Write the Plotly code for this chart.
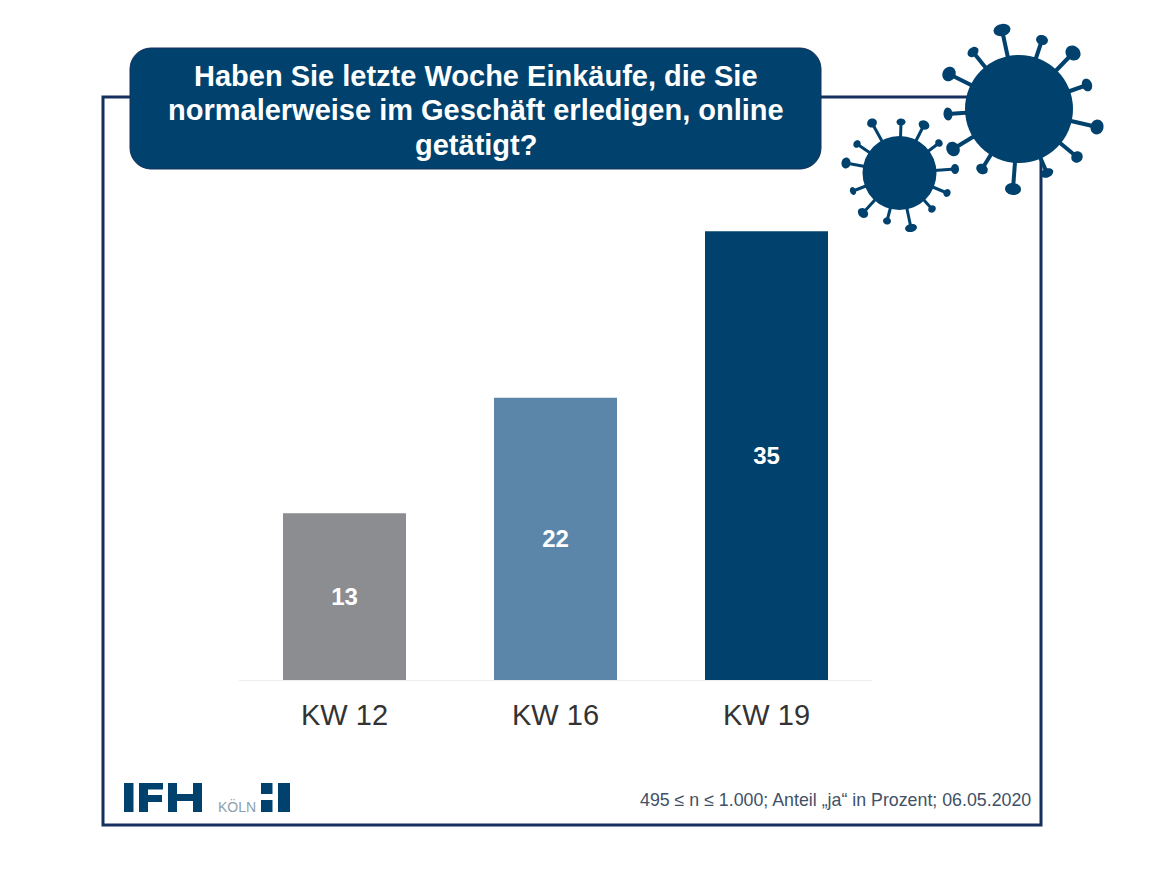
import math
import plotly.graph_objects as go

W, H = 1164, 873

categories = ["KW 12", "KW 16", "KW 19"]
values = [13, 22, 35]
bar_colors = ["#8c8d91", "#5b86a9", "#00426d"]

title_lines = [
    "Haben Sie letzte Woche Einkäufe, die Sie",
    "normalerweise im Geschäft erledigen, online",
    "getätigt?",
]
title_y = [76, 110, 145]
footnote = "495 ≤ n ≤ 1.000; Anteil „ja“ in Prozent; 06.05.2020"

NAVY = "#00426d"
FRAME = "#16305e"
FONT = "Liberation Sans"

# virus spikes: tip x, tip y, blob half length, blob half width (page pixels)
big_spikes = [
    (1002, 30, 8.5, 6), (1042, 40, 6, 5), (1073, 53, 8, 7), (1087, 85, 6.5, 5),
    (1097, 127, 7.5, 6.5), (1077, 157, 6, 5.5), (1047, 173, 6.5, 4.5), (1013, 189, 8, 6),
    (982, 169, 6, 5), (953, 149, 7.5, 6.5), (948, 114, 6.5, 4.5), (949, 74, 7.5, 6.5),
    (973, 52, 6, 4.5),
]
small_spikes = [
    (872, 123, 5, 4.5), (901, 122, 4.5, 3.5), (924, 125, 5.5, 4.5), (939, 143, 4, 3.5),
    (955, 169, 5, 4), (947, 193, 4, 3.5), (932, 209, 4, 3.5), (911, 228, 6, 4),
    (887, 221, 4, 3.5), (863, 213, 5.5, 4.5), (853, 191, 4, 3), (846, 163, 5.5, 4.5),
    (857, 144, 4, 3.5),
]


def px(x):
    return x / W


def py(y):
    return 1 - y / H


def rect(x0, y0, x1, y1, color):
    return dict(type="rect", xref="paper", yref="paper", x0=px(x0), x1=px(x1),
                y0=py(y0), y1=py(y1), fillcolor=color, line_width=0, layer="above")


def rounded_box(x0, y0, x1, y1, r, color):
    k = r * 0.45
    pts = (
        f"M {px(x0 + r)} {py(y0)} L {px(x1 - r)} {py(y0)} "
        f"C {px(x1 - k)} {py(y0)} {px(x1)} {py(y0 + k)} {px(x1)} {py(y0 + r)} "
        f"L {px(x1)} {py(y1 - r)} "
        f"C {px(x1)} {py(y1 - k)} {px(x1 - k)} {py(y1)} {px(x1 - r)} {py(y1)} "
        f"L {px(x0 + r)} {py(y1)} "
        f"C {px(x0 + k)} {py(y1)} {px(x0)} {py(y1 - k)} {px(x0)} {py(y1 - r)} "
        f"L {px(x0)} {py(y0 + r)} "
        f"C {px(x0)} {py(y0 + k)} {px(x0 + k)} {py(y0)} {px(x0 + r)} {py(y0)} Z"
    )
    return dict(type="path", xref="paper", yref="paper", path=pts, fillcolor=color,
                line=dict(color=FRAME, width=1), layer="above")


def virus(cx, cy, radius, spikes, stem):
    out = []
    for tx, ty, a, b in spikes:
        out.append(dict(type="line", xref="paper", yref="paper", x0=px(cx), y0=py(cy),
                        x1=px(tx), y1=py(ty), line=dict(color=NAVY, width=stem), layer="above"))
        ang = math.atan2(ty - cy, tx - cx) + math.pi / 2
        pts = []
        for i in range(24):
            t = 2 * math.pi * i / 24
            ex, ey = a * math.cos(t), b * math.sin(t)
            pts.append((tx + ex * math.cos(ang) - ey * math.sin(ang),
                        ty + ex * math.sin(ang) + ey * math.cos(ang)))
        path = "M " + " L ".join(f"{px(x)} {py(y)}" for x, y in pts) + " Z"
        out.append(dict(type="path", xref="paper", yref="paper", path=path, fillcolor=NAVY,
                        line_width=0, layer="above"))
    out.append(dict(type="circle", xref="paper", yref="paper", x0=px(cx - radius),
                    x1=px(cx + radius), y0=py(cy + radius), y1=py(cy - radius),
                    fillcolor=NAVY, line_width=0, layer="above"))
    return out


fig = go.Figure(go.Bar(
    x=categories, y=values,
    marker=dict(color=bar_colors, line_width=0),
    text=values, textposition="inside", insidetextanchor="middle",
    textangle=0, constraintext="none",
    textfont=dict(family=FONT, size=24, color="white", weight="bold"),
    hoverinfo="skip",
))

shapes = [
    # frame
    dict(type="rect", xref="paper", yref="paper", x0=px(103), x1=px(1041), y0=py(825), y1=py(97),
         line=dict(color=FRAME, width=3), fillcolor="rgba(0,0,0,0)", layer="above"),
    rounded_box(130, 48, 821, 169, 21, NAVY),
]
shapes += virus(1019, 109, 54, big_spikes, 4)
shapes += virus(899.5, 173, 37, small_spikes, 3)

# IFH logo
shapes += [
    rect(124, 783, 133.5, 812, NAVY),
    rect(139, 783, 148, 812, NAVY), rect(139, 783, 163, 789.5, NAVY), rect(139, 795, 162, 802, NAVY),
    rect(168, 783, 177, 812, NAVY), rect(193, 783, 202, 812, NAVY), rect(168, 794, 202, 801, NAVY),
    rect(261, 783, 272.5, 794, NAVY), rect(261, 800, 272.5, 812, NAVY), rect(278, 783, 290, 812, NAVY),
]

annotations = [
    dict(text=line, xref="paper", yref="paper", x=px(476), y=py(y),
         xanchor="center", yanchor="middle", showarrow=False,
         font=dict(family=FONT, size=29, color="white", weight="bold"))
    for line, y in zip(title_lines, title_y)
]
annotations += [
    dict(text=footnote, xref="paper", yref="paper", x=px(1033), y=py(800),
         xanchor="right", yanchor="middle", showarrow=False,
         font=dict(family=FONT, size=17.8, color="#3f5168")),
    dict(text="KÖLN", xref="paper", yref="paper", x=px(216), y=py(806),
         xanchor="left", yanchor="middle", showarrow=False,
         font=dict(family=FONT, size=14, color="#8aa0ad")),
]

fig.update_layout(
    width=W, height=H,
    margin=dict(l=0, r=0, t=0, b=0),
    paper_bgcolor="white", plot_bgcolor="white",
    bargap=0.417, showlegend=False,
    shapes=shapes, annotations=annotations,
    xaxis=dict(domain=[px(239), px(872)], anchor="y", showgrid=False, zeroline=False,
               showline=True, linecolor="#eeeeee", linewidth=1, ticks="",
               ticklabelstandoff=9,
               tickfont=dict(family=FONT, size=29, color="#333333")),
    yaxis=dict(domain=[py(680), py(167)], anchor="x", range=[0, 40], visible=False),
)

# the browser's default body margin would push the page 8px off
fig.write_html("out.html", config=dict(displayModeBar=False),
               post_script="document.body.style.margin = '0';")
